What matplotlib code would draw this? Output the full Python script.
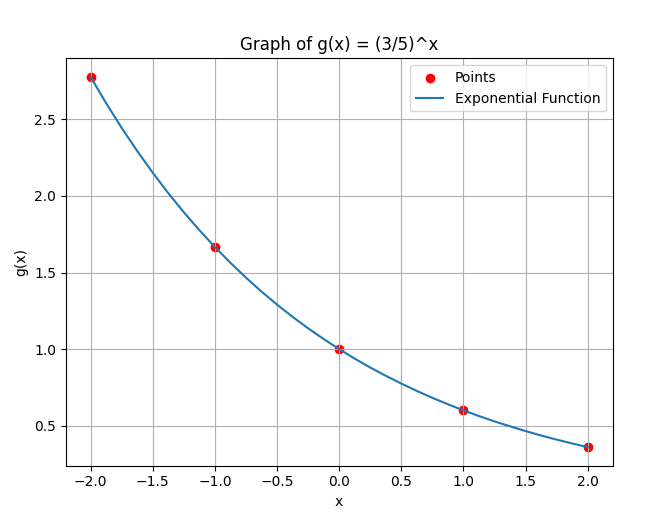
import numpy as np
import matplotlib
matplotlib.use('Agg')
import matplotlib.pyplot as plt

# points marked on the graph
x_pts = [-2, -1, 0, 1, 2]
y_pts = [2.778, 1.667, 1.0, 0.6, 0.36]

# curve values
x_curve = [-2.0, -1.875, -1.75, -1.625, -1.5, -1.375, -1.25, -1.125,
           -1.0, -0.875, -0.75, -0.625, -0.5, -0.375, -0.25, -0.125,
           0.0, 0.125, 0.25, 0.375, 0.5, 0.625, 0.75, 0.875,
           1.0, 1.125, 1.25, 1.375, 1.5, 1.625, 1.75, 1.875, 2.0]
y_curve = [2.778, 2.606, 2.445, 2.294, 2.152, 2.019, 1.894, 1.777,
           1.667, 1.564, 1.467, 1.376, 1.291, 1.211, 1.136, 1.066,
           1.0, 0.938, 0.880, 0.826, 0.775, 0.727, 0.682, 0.640,
           0.6, 0.563, 0.528, 0.496, 0.465, 0.436, 0.409, 0.384, 0.36]

fig = plt.figure(figsize=(6.65, 5.24), dpi=100)
ax = fig.add_axes([0.0988, 0.1113, 0.8225, 0.7774])

ax.scatter(x_pts, y_pts, color='red', label='Points')
ax.plot(x_curve, y_curve, label='Exponential Function')

ax.set_title('Graph of g(x) = (3/5)^x')
ax.set_xlabel('x')
ax.set_ylabel('g(x)')
ax.grid(True)
ax.legend()

fig.savefig('out.png', dpi=100)
